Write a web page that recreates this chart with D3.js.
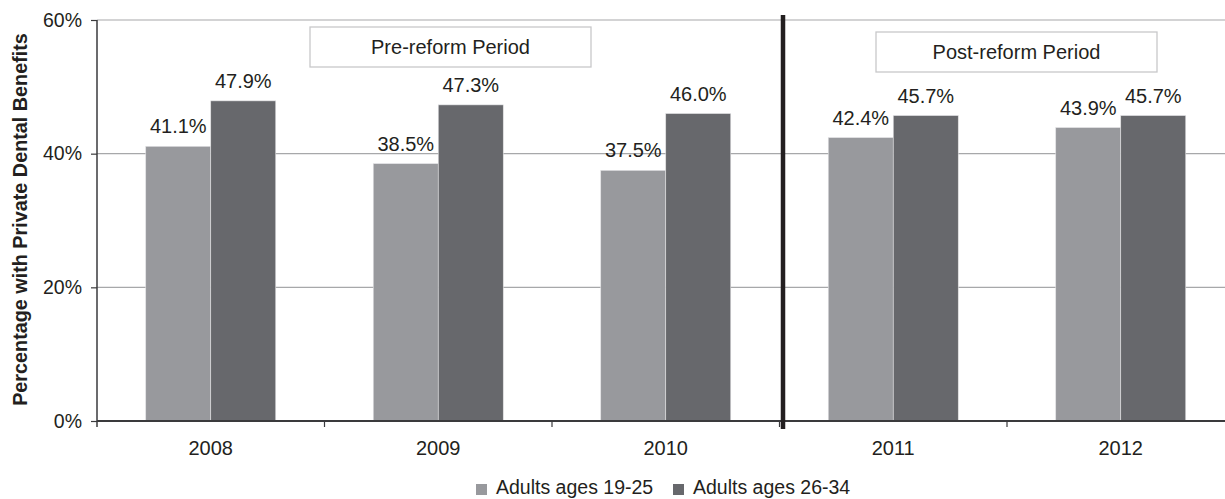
<!DOCTYPE html>
<html>
<head>
<meta charset="utf-8">
<script src="https://cdn.jsdelivr.net/npm/d3@7"></script>
<style>
  html, body { margin: 0; padding: 0; background: #fff; }
  svg { display: block; font-family: "Liberation Sans", Arial, Helvetica, sans-serif; }
</style>
</head>
<body>
<svg id="chart" width="1225" height="499"></svg>
<script>
// Share of young adults with private dental benefits, by year and age group
const years = ["2008", "2009", "2010", "2011", "2012"];
const seriesNames = ["Adults ages 19-25", "Adults ages 26-34"];
const ages19to25 = [41.1, 38.5, 37.5, 42.4, 43.9];
const ages26to34 = [47.9, 47.3, 46.0, 45.7, 45.7];
const yTicks = [0, 20, 40, 60];
const periodLabels = ["Pre-reform Period", "Post-reform Period"];

(function () {
const colors = ["#98999d", "#67686c"];
const textColor = "#231f20";

const svg = d3.select("#chart");
const plotLeft = 97, plotBottom = 421, plotTop = 20, step = 227.5;
const plotRight = plotLeft + step * years.length;

const x0 = d3.scaleBand().domain(years).range([plotLeft, plotRight])
  .paddingInner(97.5 / 227.5).paddingOuter(97.5 / 227.5 / 2);
const x1 = d3.scaleBand().domain(seriesNames).range([0, x0.bandwidth()]);
const y = d3.scaleLinear().domain([0, 60]).range([plotBottom, plotTop]);

const rows = years.map((yr, i) => ({ year: yr, values: [ages19to25[i], ages26to34[i]] }));

// Horizontal gridlines
svg.append("g").selectAll("line").data(yTicks.filter(d => d > 0)).join("line")
  .attr("x1", plotLeft).attr("x2", 1225)
  .attr("y1", d => y(d)).attr("y2", d => y(d))
  .attr("stroke", "#a7a8aa").attr("stroke-width", 1.2);

// Bars
const groups = svg.append("g").selectAll("g").data(rows).join("g")
  .attr("transform", d => `translate(${x0(d.year)},0)`);
groups.selectAll("rect").data(d => d.values.map((v, k) => ({ k, v }))).join("rect")
  .attr("x", d => x1(seriesNames[d.k]))
  .attr("width", x1.bandwidth())
  .attr("y", d => y(d.v))
  .attr("height", d => y(0) - y(d.v))
  .attr("fill", d => colors[d.k])
  .attr("stroke", "#e2e2e4").attr("stroke-width", 0.6);

// Value labels
groups.selectAll("text").data(d => d.values.map((v, k) => ({ k, v }))).join("text")
  .attr("x", d => x1(seriesNames[d.k]) + x1.bandwidth() / 2)
  .attr("y", d => y(d.v) - 13)
  .attr("text-anchor", "middle")
  .attr("font-size", 20)
  .attr("fill", textColor)
  .text(d => d.v.toFixed(1) + "%");

// Y axis
const yAxis = svg.append("g").attr("transform", `translate(${plotLeft},0)`)
  .call(d3.axisLeft(y).tickValues(yTicks).tickFormat(d => d + "%").tickSize(6).tickPadding(9));
yAxis.select(".domain").attr("stroke", "#3a3a3c").attr("stroke-width", 1.5)
  .attr("d", `M0,${plotTop}V${plotBottom + 6}`);
yAxis.selectAll(".tick line").attr("stroke", "#3a3a3c").attr("stroke-width", 1.2);
yAxis.selectAll(".tick text").attr("font-size", 19.5).attr("fill", textColor)
  .attr("font-family", "Liberation Sans, Arial, sans-serif");

// X axis: baseline, boundary ticks and year labels
const xg = svg.append("g");
xg.append("line").attr("x1", plotLeft).attr("x2", 1225)
  .attr("y1", plotBottom).attr("y2", plotBottom)
  .attr("stroke", "#3a3a3c").attr("stroke-width", 2);
xg.selectAll("line.tick").data(d3.range(1, years.length)).join("line")
  .attr("class", "tick")
  .attr("x1", i => plotLeft + i * x0.step()).attr("x2", i => plotLeft + i * x0.step())
  .attr("y1", plotBottom).attr("y2", plotBottom + 6)
  .attr("stroke", "#3a3a3c").attr("stroke-width", 1.2);
xg.selectAll("text").data(years).join("text")
  .attr("x", d => x0(d) + x0.bandwidth() / 2)
  .attr("y", 455)
  .attr("text-anchor", "middle")
  .attr("font-size", 20)
  .attr("fill", textColor)
  .text(d => d);

// Reform divider between 2010 and 2011
const divX = plotLeft + 3 * x0.step() + 3.5;
svg.append("line").attr("x1", divX).attr("x2", divX)
  .attr("y1", 15).attr("y2", plotBottom + 8)
  .attr("stroke", "#231f20").attr("stroke-width", 4.5);

// Period annotation boxes
const boxes = [
  { label: periodLabels[0], x: 310, y: 27, w: 281, h: 40 },
  { label: periodLabels[1], x: 876, y: 32, w: 281, h: 40 }
];
const bg = svg.append("g").selectAll("g").data(boxes).join("g");
bg.append("rect")
  .attr("x", d => d.x).attr("y", d => d.y).attr("width", d => d.w).attr("height", d => d.h)
  .attr("fill", "#fff").attr("stroke", "#c8c8ca").attr("stroke-width", 1.3);
bg.append("text")
  .attr("x", d => d.x + d.w / 2).attr("y", d => d.y + 27)
  .attr("text-anchor", "middle").attr("font-size", 20).attr("fill", textColor)
  .text(d => d.label);

// Y axis title
svg.append("text")
  .attr("transform", "translate(27,219.5) rotate(-90)")
  .attr("text-anchor", "middle")
  .attr("font-size", 19.8).attr("font-weight", "bold").attr("fill", textColor)
  .text("Percentage with Private Dental Benefits");

// Legend
const legend = svg.append("g");
const legendItems = [{ k: 0, x: 476 }, { k: 1, x: 673 }];
legend.selectAll("rect").data(legendItems).join("rect")
  .attr("x", d => d.x).attr("y", 484).attr("width", 11).attr("height", 11)
  .attr("fill", d => colors[d.k]);
legend.selectAll("text").data(legendItems).join("text")
  .attr("x", d => d.x + 20).attr("y", 494)
  .attr("font-size", 19.5).attr("fill", textColor)
  .text(d => seriesNames[d.k]);
})();
</script>
</body>
</html>
